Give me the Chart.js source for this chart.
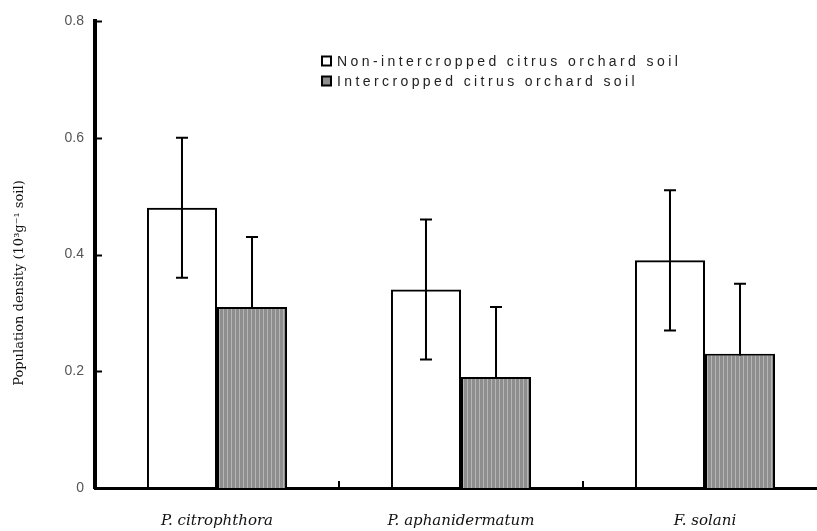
<!DOCTYPE html>
<html>
<head>
<meta charset="utf-8">
<script src="https://cdn.jsdelivr.net/npm/chart.js@4.4.1/dist/chart.umd.min.js"></script>
<style>
  html, body { margin: 0; padding: 0; background: #fff; overflow: hidden; }
  #wrap { width: 840px; height: 531px; }
</style>
</head>
<body>
<div id="wrap"><canvas id="myChart" width="840" height="531"></canvas></div>
<script>
const species = ['P. citrophthora', 'P. aphanidermatum', 'F. solani'];
const seriesNames = ['Non-intercropped citrus orchard soil', 'Intercropped citrus orchard soil'];
const nonIntercropped = [0.48, 0.34, 0.39];
const intercropped = [0.31, 0.19, 0.23];
const nonIntercroppedErr = [0.12, 0.12, 0.12];
const intercroppedErr = [0.12, 0.12, 0.12];
const yTicks = [0, 0.2, 0.4, 0.6, 0.8];

// vertical stripes like the grey bars of the original
function stripes() {
    const c = document.createElement('canvas');
    c.width = 4;
    c.height = 4;
    const g = c.getContext('2d');
    g.fillStyle = '#8e8e8e';
    g.fillRect(0, 0, 4, 4);
    g.fillStyle = '#b6b6b6';
    g.fillRect(3, 0, 1, 4);
    return g.createPattern(c, 'repeat');
}

const errors = [nonIntercroppedErr, intercroppedErr];
const legendFill = ['#ffffff', '#8e8e8e'];

const decorations = {
    id: 'decorations',
    beforeDatasetsDraw(chart) {
        const ctx = chart.ctx;
        const y = chart.scales.y;
        ctx.save();
        ctx.strokeStyle = '#000';
        ctx.lineWidth = 2;
        chart.data.datasets.forEach((ds, i) => {
            chart.getDatasetMeta(i).data.forEach((bar, j) => {
                const v = ds.data[j];
                const top = y.getPixelForValue(v + errors[i][j]);
                const bot = y.getPixelForValue(v - errors[i][j]);
                ctx.beginPath();
                ctx.moveTo(bar.x, top);
                ctx.lineTo(bar.x, bot);
                ctx.moveTo(bar.x - 6, top);
                ctx.lineTo(bar.x + 6, top);
                ctx.moveTo(bar.x - 6, bot);
                ctx.lineTo(bar.x + 6, bot);
                ctx.stroke();
            });
        });
        ctx.restore();
    },
    afterDraw(chart) {
        const ctx = chart.ctx;
        const area = chart.chartArea;
        const x = chart.scales.x;
        const y = chart.scales.y;
        ctx.save();
        ctx.strokeStyle = '#000';
        ctx.lineWidth = 2;
        // inward ticks on y axis
        yTicks.slice(1).forEach(v => {
            const py = Math.round(y.getPixelForValue(v)) + 0.5;
            ctx.beginPath();
            ctx.moveTo(area.left, py);
            ctx.lineTo(area.left + 7, py);
            ctx.stroke();
        });
        // upward ticks between categories
        for (let j = 0; j < species.length - 1; j++) {
            const px = (x.getPixelForValue(j) + x.getPixelForValue(j + 1)) / 2;
            ctx.beginPath();
            ctx.moveTo(px, area.bottom);
            ctx.lineTo(px, area.bottom - 7);
            ctx.stroke();
        }
        // y title
        ctx.translate(20, 283);
        ctx.rotate(-Math.PI / 2);
        ctx.fillStyle = '#111';
        ctx.font = '13px "DejaVu Serif"';
        ctx.textAlign = 'center';
        ctx.textBaseline = 'middle';
        ctx.fillText('Population density (10³g⁻¹ soil)', 0, 0);
        ctx.restore();

        // legend
        ctx.save();
        ctx.font = '14px "Liberation Sans"';
        ctx.letterSpacing = '3.4px';
        ctx.textBaseline = 'middle';
        chart.data.datasets.forEach((ds, i) => {
            const cy = 61 + i * 20;
            ctx.fillStyle = legendFill[i];
            ctx.fillRect(322, cy - 4.5, 9, 9);
            ctx.strokeStyle = '#000';
            ctx.lineWidth = 2;
            ctx.strokeRect(322, cy - 4.5, 9, 9);
            ctx.fillStyle = '#222';
            ctx.fillText(ds.label, 337, cy + 1);
        });
        ctx.restore();
    }
};

const ctx = document.getElementById('myChart').getContext('2d');
const myChart = new Chart(ctx, {
    type: 'bar',
    data: {
        labels: species,
        datasets: [
            {
                label: seriesNames[0],
                data: nonIntercropped,
                backgroundColor: 'rgba(255, 255, 255, 0)',
                borderColor: '#000',
                borderWidth: 2
            },
            {
                label: seriesNames[1],
                data: intercropped,
                backgroundColor: stripes(),
                borderColor: '#000',
                borderWidth: 2
            }
        ]
    },
    options: {
        responsive: false,
        animation: false,
        layout: { padding: { top: 21, right: 13, left: 0, bottom: 0 } },
        categoryPercentage: 0.574,
        barPercentage: 1,
        plugins: {
            legend: { display: false },
            tooltip: { enabled: false }
        },
        scales: {
            x: {
                grid: { display: false, drawTicks: false },
                border: { color: '#000', width: 3 },
                ticks: {
                    color: '#111',
                    padding: 24,
                    font: { family: 'DejaVu Serif', size: 15, style: 'italic' }
                },
                afterFit: s => { s.height = 43; }
            },
            y: {
                min: 0,
                max: 0.8,
                grid: { display: false, drawTicks: false },
                border: { color: '#000', width: 4 },
                afterBuildTicks: s => { s.ticks = yTicks.map(v => ({ value: v })); },
                ticks: {
                    color: '#555',
                    padding: 11,
                    font: { family: 'Liberation Sans', size: 14 },
                    callback: v => v === 0 ? '0' : v.toFixed(1)
                },
                afterFit: s => { s.width = 95; }
            }
        }
    },
    plugins: [decorations]
});
</script>
</body>
</html>
